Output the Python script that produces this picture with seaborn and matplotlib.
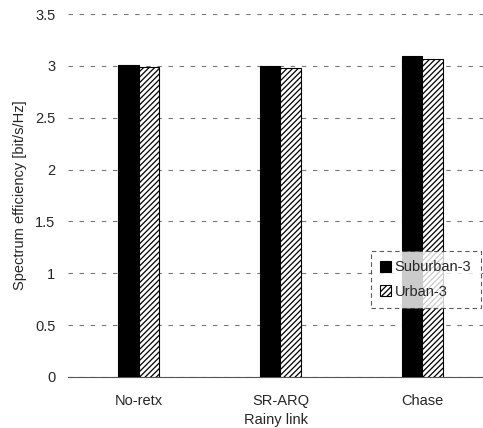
import matplotlib
matplotlib.use("Agg")
import matplotlib.pyplot as plt
import seaborn as sns
import pandas as pd

schemes = ["No-retx", "SR-ARQ", "Chase"]
series = ["Suburban-3", "Urban-3"]
suburban = [3.01, 2.995, 3.095]
urban = [2.99, 2.975, 3.065]
yticks = [0, 0.5, 1, 1.5, 2, 2.5, 3, 3.5]

df = pd.DataFrame({
    "scheme": schemes * 2,
    "series": [series[0]] * 3 + [series[1]] * 3,
    "value": suburban + urban,
})

sns.set_style("white")
plt.rcParams["font.family"] = ["Liberation Sans", "DejaVu Sans"]
plt.rcParams["hatch.linewidth"] = 0.9

fig = plt.figure(figsize=(4.83, 4.28), dpi=100)
ax = fig.add_axes([68 / 483, 1 - 377 / 428, 415 / 483, 363 / 428])

sns.barplot(data=df, x="scheme", y="value", hue="series", order=schemes,
            hue_order=series, palette={series[0]: "black", series[1]: "white"},
            width=0.29, edgecolor="black", linewidth=0.8, saturation=1,
            ax=ax, zorder=3)

for patch in ax.containers[1]:
    patch.set_hatch("//////")

ax.set_xlim(-0.5, 2.43)
ax.set_ylim(0, 3.5)
ax.set_yticks(yticks)
ax.set_yticklabels([f"{t:g}" for t in yticks], fontsize=10.5)
ax.tick_params(axis="x", labelsize=10.5, length=0, pad=12)
ax.tick_params(axis="y", length=0, pad=9)
ax.yaxis.grid(True, color="#777777", linestyle=(0, (4, 6)), linewidth=0.8, zorder=0)
for s in ["left", "right", "top"]:
    ax.spines[s].set_visible(False)
ax.spines["bottom"].set_color("#555555")
ax.spines["bottom"].set_linewidth(0.8)

ax.set_xlabel("Rainy link", fontsize=10.5, labelpad=4)
ax.set_ylabel("Spectrum efficiency [bit/s/Hz]", fontsize=10.5, labelpad=6)

leg = ax.legend(loc="lower right", bbox_to_anchor=(0.995, 0.19), fontsize=10.5,
                frameon=True, fancybox=False, handlelength=0.75, handleheight=0.75,
                handletextpad=0.25, borderpad=0.65, labelspacing=0.7,
                borderaxespad=0.0)
leg.legend_handles[1].set_hatch("//////")
frame = leg.get_frame()
frame.set_edgecolor("#333333")
frame.set_linestyle((0, (4, 3)))
frame.set_linewidth(0.8)
leg.set_zorder(5)

fig.savefig("out.png", dpi=100)
